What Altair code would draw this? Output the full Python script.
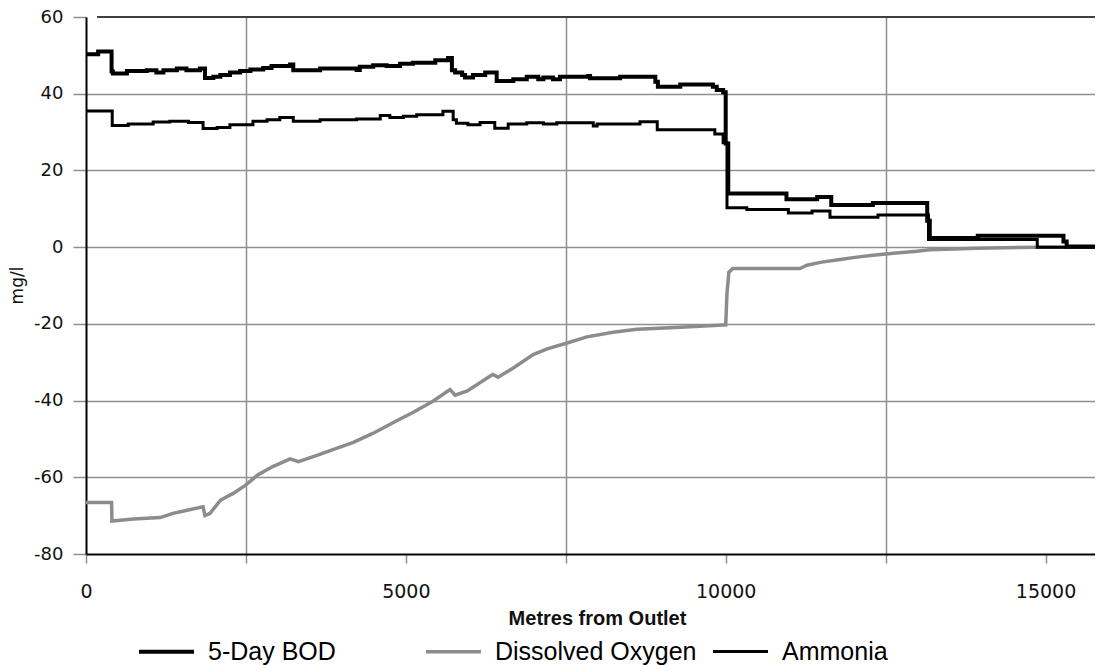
import altair as alt
import pandas as pd

# ---- data ----
series_names = ["5-Day BOD", "Dissolved Oxygen", "Ammonia"]

bod_x = [0, 190, 400, 420, 640, 950, 1100, 1210, 1420, 1570, 1780, 1860, 1990, 2100, 2250,
         2410, 2570, 2770, 2900, 3190, 3240, 3660, 4230, 4280, 4490, 4700, 4910, 5110, 5460,
         5660, 5720, 5770, 5880, 5925, 6050, 6240, 6420, 6680, 6890, 7070, 7150, 7300, 7410,
         7850, 7880, 8350, 8900, 8940, 9290, 9800, 9860, 9960, 10000, 10040, 10950, 11430,
         11650, 12300, 13150, 13190, 13940, 15280, 15330, 16000]
bod_y = [50.3, 51.0, 45.8, 45.3, 45.9, 46.1, 45.5, 46.1, 46.6, 46.1, 46.6, 44.1, 44.4, 44.9, 45.5,
         45.9, 46.3, 46.7, 47.2, 47.6, 46.1, 46.6, 46.2, 47.0, 47.4, 47.2, 47.8, 48.1, 48.7,
         49.3, 46.1, 45.5, 44.9, 44.2, 44.9, 45.5, 43.3, 43.8, 44.4, 43.8, 44.2, 43.8, 44.4,
         44.6, 44.0, 44.4, 43.1, 41.8, 42.4, 41.8, 41.0, 40.4, 27.0, 14.0, 12.5, 13.1,
         11.0, 11.5, 6.9, 2.4, 3.0, 1.5, 0.2, 0.2]

amm_x = [0, 410, 660, 1050, 1310, 1600, 1830, 2050, 2250, 2610, 2830, 3030, 3240, 3660, 4230,
         4600, 4750, 4960, 5170, 5580, 5740, 5790, 5970, 6160, 6390, 6600, 6890, 7150, 7360,
         7930, 7990, 8660, 8930, 9830, 9960, 10020, 10330, 10980, 11350, 11630, 12380, 13170,
         14870, 16000]
amm_y = [35.5, 31.7, 32.1, 32.6, 32.8, 32.5, 30.9, 31.2, 31.9, 32.8, 33.2, 33.8, 32.8, 33.2, 33.4,
         34.3, 33.8, 34.1, 34.5, 35.4, 33.2, 32.3, 31.9, 32.5, 31.0, 32.1, 32.4, 32.1, 32.4,
         31.6, 32.1, 32.7, 30.6, 29.5, 27.2, 10.3, 9.8, 8.9, 9.4, 7.8, 8.4, 2.0,
         0.0, 0.0]

do_x = [0, 400, 405, 740, 1160, 1360, 1580, 1830, 1860, 1940, 2100, 2300, 2490, 2690, 2920,
        3190, 3320, 3610, 3860, 4180, 4490, 4910, 5110, 5430, 5690, 5770, 5960, 6320, 6360,
        6440, 6680, 6990, 7210, 7520, 7830, 8240, 8610, 9290, 9960, 10000, 10020, 10050,
        10110, 11160, 11270, 11500, 11790, 12050, 12300, 12620, 12990, 13190, 13930, 14870,
        16000]
do_y = [-66.6, -66.6, -71.4, -70.9, -70.5, -69.4, -68.6, -67.7, -70.0, -69.4, -66.0, -64.2,
        -62.1, -59.3, -57.2, -55.2, -55.9, -54.3, -52.8, -50.9, -48.5, -44.8, -43.1, -40.1,
        -37.1, -38.6, -37.5, -33.6, -33.2, -33.9, -31.5, -28.0, -26.5, -25.0, -23.4, -22.2,
        -21.4, -20.9, -20.3, -20.3, -12.0, -6.5, -5.6, -5.6, -4.7, -3.9, -3.2, -2.6, -2.1,
        -1.6, -1.1, -0.7, -0.3, 0.0, 0.0]

x_ticks = [0, 2500, 5000, 7500, 10000, 12500, 15000]
y_ticks = list(range(-80, 61, 10))

step_df = pd.DataFrame(
    {"x": bod_x + amm_x,
     "y": bod_y + amm_y,
     "series": ["5-Day BOD"] * len(bod_x) + ["Ammonia"] * len(amm_x)})
do_df = pd.DataFrame({"x": do_x, "y": do_y, "series": ["Dissolved Oxygen"] * len(do_x)})

W, H = 1009, 537
LABEL_FONT = "DejaVu Sans"

x_enc = alt.X(
    "x:Q",
    scale=alt.Scale(domain=[0, 15773], nice=False, zero=False),
    axis=alt.Axis(
        title="Metres from Outlet",
        values=x_ticks,
        labelExpr="datum.value % 5000 === 0 ? (datum.value + '') : ''",
        labelFlush=False,
        labelFont=LABEL_FONT, labelFontSize=19, labelColor="#111111",
        labelPadding=19,
        tickSize=9, tickColor="#8f8f8f", tickWidth=1.5,
        domainColor="#000000", domainWidth=2,
        gridColor="#8f8f8f", gridWidth=1.5,
        gridOpacity={"condition": {"test": "datum.value % 5000 !== 0", "value": 1}, "value": 0},
        titleFont="Liberation Sans", titleFontSize=20, titleFontWeight="bold",
        titleColor="#111111",
        titleX=511, titleY=54, titleBaseline="top", titleAlign="center",
    ),
)
y_enc = alt.Y(
    "y:Q",
    scale=alt.Scale(domain=[-80, 60], nice=False, zero=False),
    axis=alt.Axis(
        title="mg/l",
        values=y_ticks,
        labelExpr="datum.value % 20 === 0 ? (datum.value + '') : ''",
        labelFont=LABEL_FONT, labelFontSize=18, labelColor="#111111",
        labelPadding=10,
        tickSize={"condition": {"test": "datum.value % 20 === 0", "value": 13}, "value": 10},
        tickColor="#8f8f8f", tickWidth=1.5,
        domainColor="#000000", domainWidth=2,
        gridColor="#8f8f8f", gridWidth=1.5,
        gridOpacity={"condition": {"test": "datum.value % 20 === 0 && datum.value > -80 && datum.value < 60", "value": 1}, "value": 0},
        titleFont=LABEL_FONT, titleFontSize=17, titleFontWeight="normal",
        titleColor="#111111", titleAngle=270,
        titleX=-69, titleY=268, titleBaseline="middle", titleAlign="center",
    ),
)

legend_props = dict(
    title=None, orient="none", legendX=51, legendY=605,
    direction="horizontal", columns=3, gridAlign="all", columnPadding=9,
    symbolType="stroke", symbolSize=3025,
    labelFont="Liberation Sans", labelFontSize=25, labelColor="#000000",
    labelOffset=12, labelLimit=500, padding=0,
)
color_enc = alt.Color(
    "series:N",
    scale=alt.Scale(domain=series_names, range=["#000000", "#8c8c8c", "#000000"]),
    legend=alt.Legend(**legend_props),
)
sw_enc = alt.StrokeWidth(
    "series:N",
    scale=alt.Scale(domain=series_names, range=[4, 3, 1]),
    legend=alt.Legend(**legend_props),
)

do_layer = alt.Chart(do_df).mark_line(clip=True, strokeJoin="miter").encode(
    x=x_enc, y=y_enc, color=color_enc, strokeWidth=sw_enc,
)
step_layer = alt.Chart(step_df).mark_line(clip=True, interpolate="step-after", strokeJoin="miter").encode(
    x=x_enc, y=y_enc, color=color_enc, strokeWidth=sw_enc,
    detail="series:N",
)
top_border = alt.Chart(pd.DataFrame({"y": [60]})).mark_rule(color="#000000", strokeWidth=1.5).encode(
    y=alt.Y("y:Q"), x=alt.value(11), x2=alt.value(W)
)

chart = alt.layer(do_layer, step_layer, top_border).properties(
    width=W, height=H,
    autosize=alt.AutoSizeParams(type="none"),
    padding={"left": 78, "top": 9, "right": 0, "bottom": 111},
    background="#ffffff",
).configure_view(stroke=None)

chart.save("out.html", embed_options={"renderer": "svg", "actions": False})
